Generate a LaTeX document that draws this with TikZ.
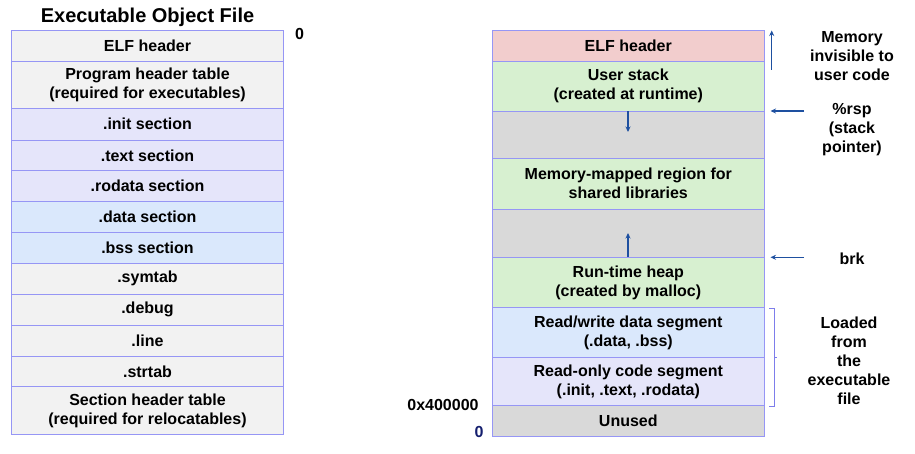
\documentclass[tikz,border=0pt]{standalone}
\usepackage{fontspec}
\setmainfont{Liberation Sans}
\usetikzlibrary{arrows.meta}
\definecolor{bordercol}{RGB}{150,150,245}
\definecolor{lgray}{RGB}{242,242,242}
\definecolor{lav}{RGB}{229,229,250}
\definecolor{lblue}{RGB}{218,232,252}
\definecolor{pink}{RGB}{242,205,205}
\definecolor{lgreen}{RGB}{215,240,208}
\definecolor{mgray}{RGB}{217,217,217}
\definecolor{arrblue}{RGB}{30,80,160}
\definecolor{bracecol}{RGB}{125,125,235}
\definecolor{zeroblue}{RGB}{20,30,110}
\tikzset{
  cellfont/.style={font=\bfseries\fontsize{16}{19}\selectfont},
  lcell/.style={draw=bordercol, line width=0.9pt, inner sep=0pt, minimum width=272.4pt, align=center, cellfont},
  rcell/.style={draw=bordercol, line width=0.9pt, inner sep=0pt, minimum width=272pt, align=center, cellfont},
  lbl/.style={align=center, inner sep=0pt, cellfont},
  barrow/.style={draw=arrblue, line width=1.4pt, -{Stealth[length=5.5pt,width=5pt]}},
}
\begin{document}
\begin{tikzpicture}[x=1pt,y=-1pt]
\useasboundingbox (0,0) rectangle (915,454);
% title
\node[inner sep=0pt, font=\bfseries\fontsize{20}{24}\selectfont] (title) at (147.5,17) {Executable Object File};
\node[inner sep=0pt, font=\bfseries\fontsize{16}{19}\selectfont] (zerotop) at (299.5,33.5) {0};
% left table
\node[lcell, fill=lgray, minimum height=30.6pt] (l1) at (147.5,46) {ELF header};
\node[lcell, fill=lgray, minimum height=47pt] (l2) at (147.5,84.8) {Program header table\\(required for executables)};
\node[lcell, fill=lav, minimum height=31.7pt] (l3) at (147.5,124.15) {.init section};
\node[lcell, fill=lav, minimum height=30.7pt] (l4) at (147.5,155.35) {.text section};
\node[lcell, fill=lav, minimum height=31pt] (l5) at (147.5,186.2) {.rodata section};
\node[lcell, fill=lblue, minimum height=31pt] (l6) at (147.5,217.2) {.data section};
\node[lcell, fill=lblue, minimum height=30.6pt] (l7) at (147.5,248) {.bss section};
\node[lcell, fill=lgray, minimum height=31pt] (l8) at (147.5,278.8) {.symtab};
\node[lcell, fill=lgray, minimum height=31pt] (l9) at (147.5,309.8) {.debug};
\node[lcell, fill=lgray, minimum height=30.7pt] (l10) at (147.5,340.65) {.line};
\node[lcell, fill=lgray, minimum height=30.7pt] (l11) at (147.5,371.35) {.strtab};
\node[lcell, fill=lgray, minimum height=48pt] (l12) at (147.5,410.7) {Section header table\\(required for relocatables)};
% right table
\node[rcell, fill=pink, minimum height=30.3pt] (r1) at (628.3,45.85) {ELF header};
\node[rcell, fill=lgreen, minimum height=50pt] (r2) at (628.3,86) {User stack\\(created at runtime)};
\node[rcell, fill=mgray, minimum height=47.3pt] (r3) at (628.3,134.65) {};
\node[rcell, fill=lgreen, minimum height=50.7pt] (r4) at (628.3,183.65) {Memory-mapped region for\\shared libraries};
\node[rcell, fill=mgray, minimum height=48.3pt] (r5) at (628.3,233.15) {};
\node[rcell, fill=lgreen, minimum height=50.4pt] (r6) at (628.3,282.5) {Run-time heap\\(created by malloc)};
\node[rcell, fill=lblue, minimum height=50pt] (r7) at (628.3,332.7) {Read/write data segment\\(.data, .bss)};
\node[rcell, fill=lav, minimum height=48pt] (r8) at (628.3,381.7) {Read-only code segment\\(.init, .text, .rodata)};
\node[rcell, fill=mgray, minimum height=30.3pt] (r9) at (628.3,420.85) {Unused};
% address labels
\node[lbl, anchor=center] (addr) at (443,404.5) {0x400000};
\node[lbl, text=zeroblue] (zerobot) at (479,432) {0};
% arrows inside
\coordinate (stackend) at (628,132);
\coordinate (heapend) at (628,233);
\draw[barrow] (r2.south -| stackend) -- (stackend);
\draw[barrow] (r6.north -| heapend) -- (heapend);
% right side labels
\node[lbl] (inv) at (852,56) {Memory\\invisible to\\user code};
\node[lbl] (rsp) at (852,129.5) {\%rsp\\(stack\\pointer)};
\node[lbl] (brk) at (852,258.5) {brk};
\node[lbl] (loaded) at (849,360.5) {Loaded\\from\\the\\executable\\file};
% side arrows
\coordinate (invbot) at (771.7,70);
\coordinate (invtop) at (771.7,30.5);
\draw[barrow] (invbot) -- (invtop);
\coordinate (rspstart) at (804,111);
\coordinate (rspend) at (770.5,111);
\draw[barrow] (rspstart) -- (rspend);
\coordinate (brkstart) at (804,257.3);
\coordinate (brkend) at (770.5,257.3);
\draw[barrow] (brkstart) -- (brkend);
% bracket
\coordinate (bt) at (774,308.3);
\coordinate (bb) at (774,406.7);
\coordinate (bm) at (774,357.3);
\draw[bracecol, line width=1pt] ([xshift=-4.7pt]bt) -- (bt) -- (bb) -- ([xshift=-4.7pt]bb);
\draw[bracecol, line width=1pt] (bm) -- ([xshift=3.3pt]bm);
\end{tikzpicture}
\end{document}
